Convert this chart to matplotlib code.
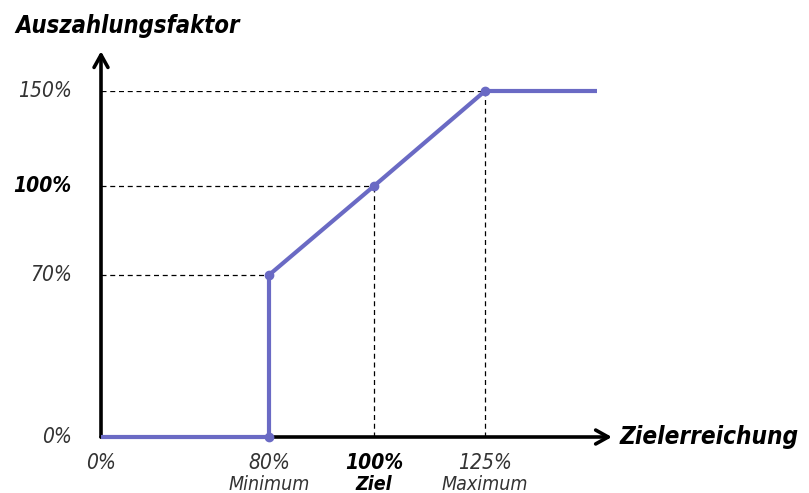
import numpy as np
import matplotlib
matplotlib.use("Agg")
import matplotlib.pyplot as plt

# Payout curve: Zielerreichung (%) -> Auszahlungsfaktor (%)
target_pct = [0, 80, 80, 100, 125, 150]
payout_pct = [0, 0, 70, 100, 150, 150]
marker_x = [80, 80, 100, 125]
marker_y = [0, 70, 100, 150]

x_ticks = [0, 80, 100, 125]
x_tick_labels = ["0%", "80%", "100%", "125%"]
x_sub_labels = ["", "Minimum", "Ziel", "Maximum"]
y_ticks = [0, 70, 100, 150]
y_tick_labels = ["0%", "70%", "100%", "150%"]

# the original axes are not to scale -> piecewise linear scales
x_knots = [0, 80, 100, 125, 150]
x_pix = [0, 168, 273, 384, 496]
y_knots = [0, 70, 100, 150]
y_pix = [0, 162, 251, 346]

plt.rcParams["font.family"] = ["DejaVu Sans"]
plt.rcParams["font.stretch"] = "condensed"

purple = "#6a6ac4"
grey = "#333333"

fig = plt.figure(figsize=(8.09, 4.93), dpi=100)
ax = fig.add_axes([101 / 809, (493 - 437) / 493, 496 / 809, 346 / 493])

ax.set_xscale("function", functions=(lambda v: np.interp(v, x_knots, x_pix),
                                     lambda p: np.interp(p, x_pix, x_knots)))
ax.set_yscale("function", functions=(lambda v: np.interp(v, y_knots, y_pix),
                                     lambda p: np.interp(p, y_pix, y_knots)))
ax.set_xlim(0, 150)
ax.set_ylim(0, 150)

# dashed guide lines
for xv, yv in zip(marker_x[1:], marker_y[1:]):
    ax.plot([0, xv], [yv, yv], ls=(0, (4, 3)), color="black", lw=0.9)
for xv, yv in zip(marker_x[2:], marker_y[2:]):
    ax.plot([xv, xv], [0, yv], ls=(0, (4, 3)), color="black", lw=0.9)

# arrows for the axes
ax.annotate("", xy=(1.03, 0), xytext=(0, 0), xycoords="axes fraction",
            arrowprops=dict(arrowstyle="->,head_length=0.9,head_width=0.5",
                            lw=2.6, color="black", shrinkA=0, shrinkB=0))
ax.annotate("", xy=(0, 1.115), xytext=(0, 0), xycoords="axes fraction",
            arrowprops=dict(arrowstyle="->,head_length=0.9,head_width=0.5",
                            lw=2.6, color="black", shrinkA=0, shrinkB=0))

ax.plot(target_pct, payout_pct, color=purple, lw=3, solid_capstyle="butt",
        clip_on=False, zorder=5)
ax.plot(marker_x, marker_y, "o", color=purple, ms=6, clip_on=False, zorder=6)

for s in ax.spines.values():
    s.set_visible(False)
ax.set_xticks([])
ax.set_yticks([])

# tick labels
for xv, lab, sub in zip(x_ticks, x_tick_labels, x_sub_labels):
    bold = lab == "100%"
    ax.annotate(lab, xy=(xv, 0), xytext=(0, -19), textcoords="offset points",
                ha="center", va="center", fontsize=15, style="italic",
                fontweight="bold" if bold else "normal",
                color="black" if bold else grey)
    if sub:
        ax.annotate(sub, xy=(xv, 0), xytext=(0, -34), textcoords="offset points",
                    ha="center", va="center", fontsize=14, style="italic",
                    fontweight="bold" if sub == "Ziel" else "normal",
                    color="black" if sub == "Ziel" else grey)
for yv, lab in zip(y_ticks, y_tick_labels):
    bold = lab == "100%"
    ax.annotate(lab, xy=(0, yv), xytext=(-21, 0), textcoords="offset points",
                ha="right", va="center", fontsize=15, style="italic",
                fontweight="bold" if bold else "normal",
                color="black" if bold else grey)

fig.text(15 / 809, 1 - 26 / 493, "Auszahlungsfaktor", ha="left", va="center",
         fontsize=17, style="italic", fontweight="bold")
fig.text(620 / 809, 1 - 437 / 493, "Zielerreichung", ha="left", va="center",
         fontsize=17.5, style="italic", fontweight="bold")

fig.savefig("out.png", dpi=100)
